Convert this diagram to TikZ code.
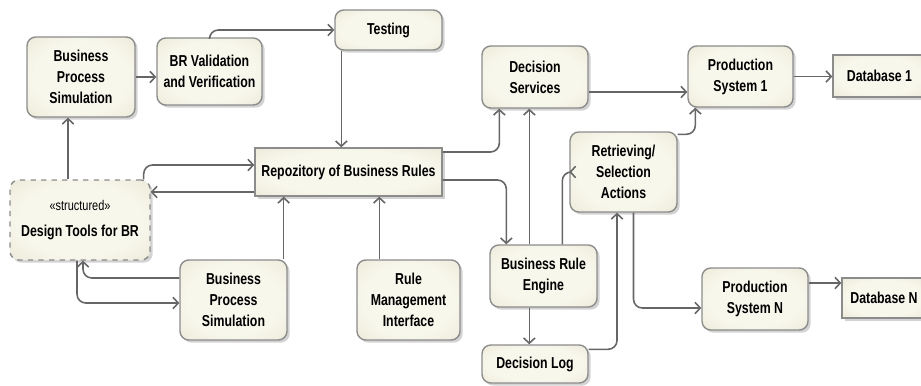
\documentclass[tikz,border=0pt]{standalone}
\usepackage{fontspec}
\setmainfont{Liberation Sans}[FakeStretch=0.78]
\usepackage{xcolor}
\usetikzlibrary{arrows.meta,shadows}
\definecolor{boxin}{HTML}{F8F7EC}
\definecolor{boxout}{HTML}{DCD9BE}
\pgfdeclareradialshading{boxshade}{\pgfpoint{0bp}{0bp}}{color(0bp)=(boxin); color(22bp)=(boxin); color(55bp)=(boxout); color(75bp)=(boxout)}

\begin{document}
\begin{tikzpicture}[round node/.style={draw=black!45, line width=0.8pt, rounded corners=5pt, shading=boxshade, drop shadow={shadow xshift=1.5pt, shadow yshift=-1.5pt, opacity=0.35}, inner sep=0pt, align=center, font=\bfseries\fontsize{9}{12}\selectfont},
square node/.style={round node, rounded corners=0pt},
link/.style={draw=black!60, line width=0.9pt, rounded corners=5pt, -{Straight Barb[length=3pt,width=6.5pt]}}]
\useasboundingbox (0,0) rectangle (18.42,7.70);
\node[round node, minimum width=2.16cm, minimum height=1.6cm] (1) at (1.62,6.16) {Business\\Process\\Simulation};
\node[round node, minimum width=2.1cm, minimum height=1.34cm] (2) at (4.19,6.27) {BR Validation\\and Verification};
\node[round node, minimum width=2.14cm, minimum height=0.8cm] (3) at (7.77,7.10) {Testing};
\node[square node, minimum width=3.74cm, minimum height=0.96cm] (4) at (6.97,4.26) {Repozitory of Business Rules};
\node[round node, dashed, minimum width=2.8cm, minimum height=1.6cm] (5) at (1.60,3.30) {{\mdseries\fontsize{8}{10}\selectfont «structured»}\\[3pt]Design Tools for BR};
\node[round node, minimum width=2.14cm, minimum height=1.6cm] (6) at (4.67,1.70) {Business\\Process\\Simulation};
\node[round node, minimum width=2.06cm, minimum height=1.6cm] (7) at (8.17,1.70) {Rule\\Management\\Interface};
\node[round node, minimum width=2.12cm, minimum height=1.24cm] (8) at (10.70,6.16) {Decision\\Services};
\node[round node, minimum width=2.1cm, minimum height=1.22cm] (9) at (14.81,6.17) {Production\\System 1};
\node[square node, minimum width=1.86cm, minimum height=0.84cm] (10) at (17.59,6.18) {Database 1};
\node[round node, minimum width=2.14cm, minimum height=1.6cm] (11) at (12.47,4.26) {Retrieving/\\Selection\\Actions};
\node[round node, minimum width=2.14cm, minimum height=1.24cm] (12) at (10.87,2.18) {Business Rule\\Engine};
\node[round node, minimum width=2.12cm, minimum height=0.76cm] (13) at (10.70,0.42) {Decision Log};
\node[round node, minimum width=2.12cm, minimum height=1.24cm] (14) at (15.10,1.72) {Production\\System N};
\node[square node, minimum width=1.68cm, minimum height=0.8cm] (15) at (17.68,1.74) {Database N};
\draw[link] ([xshift=-0.26cm]1.south |- 5.north) -- ([xshift=-0.26cm]1.south);
\draw[link] (1.east) -- (1.east -| 2.west);
\draw[link] (2.north) |- (3.west);
\draw[link] ([xshift=0.14cm]3.south west) -- ([xshift=0.14cm]3.south west |- 4.north);
\draw[link] ([xshift=-0.14cm]5.north east) |- ([yshift=0.14cm]4.west);
\draw[link] ([yshift=-0.4cm]4.west) -- ([yshift=-0.4cm]4.west -| 5.east);
\draw[link] ([xshift=-0.08cm]6.north east) -- ([xshift=-0.08cm]6.north east |- 4.south);
\draw[link] ([xshift=0.46cm]7.north west) -- ([xshift=0.46cm]7.north west |- 4.south);
\draw[link] ([yshift=0.4cm]4.east) -| ([xshift=0.36cm]8.south west);
\draw[link] ([yshift=-0.16cm]4.east) -| ([xshift=0.34cm]12.north west);
\draw[link] ([xshift=0.8cm]12.north west) -- ([xshift=0.8cm]12.north west |- 8.south);
\draw[link] ([xshift=1.46cm]12.north west) |- (11.west);
\draw[link] ([yshift=-0.1cm]13.north east) -| ([xshift=-0.13cm]11.south);
\draw[link] ([xshift=0.8cm]12.south west) -- ([xshift=0.8cm]12.south west |- 13.north);
\draw[link] ([xshift=0.2cm]11.south) |- ([yshift=-0.18cm]14.west);
\draw[link] ([yshift=-0.06cm]11.north east) -| ([xshift=0.16cm]9.south west);
\draw[link] ([yshift=-0.3cm]8.east) -- ([yshift=-0.3cm]8.east -| 9.west);
\draw[link] (9.east) -- (9.east -| 10.west);
\draw[link] ([yshift=0.32cm]14.east) -- ([yshift=0.32cm]14.east -| 15.west);
\draw[link] ([yshift=0.44cm]6.west) -| ([xshift=0.06cm]5.south);
\draw[link] ([xshift=-0.06cm]5.south) |- ([yshift=-0.06cm]6.west);
\end{tikzpicture}
\end{document}
